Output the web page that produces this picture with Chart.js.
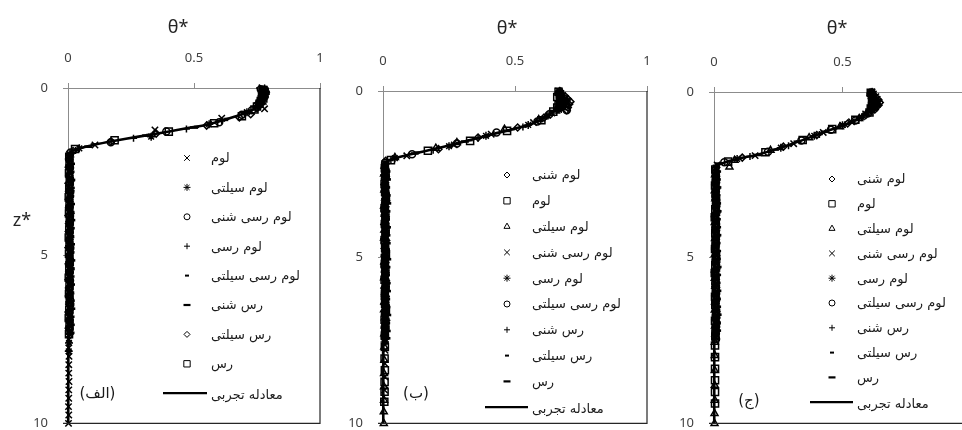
<!DOCTYPE html>
<html><head><meta charset="utf-8">
<script src="https://cdn.jsdelivr.net/npm/chart.js@4.4.1/dist/chart.umd.min.js"></script>
<style>
html,body{margin:0;padding:0;width:962px;height:430px;overflow:hidden;background:#fff;}
.p{position:absolute;top:0;height:430px;width:330px;}
</style></head><body>
<div class="p" style="left:0"><canvas id="c1" width="330" height="430"></canvas></div>
<div class="p" style="left:330px"><canvas id="c2" width="330" height="430"></canvas></div>
<div class="p" style="left:650px"><canvas id="c3" width="330" height="430"></canvas></div>
<script>
// ---------- axis ticks ----------
const thetaTicks = [0, 0.5, 1];
const thetaTickText = ['0', '0.5', '1'];
const depthTicks = [0, 5, 10];
const curveLabel = 'معادله تجربی';

// ---------- panel (الف) ----------
const alefLabels = ['لوم','لوم سیلتی','لوم رسی شنی','لوم رسی','لوم رسی سیلتی','رس شنی','رس سیلتی','رس'];
const alefTheta = [
  [0.77,0.775,0.78,0.77,0.765,0.775,0.76, 0.78,0.61,0.345,0.107, 0.006,0.004,0.008,0.005,0.003,0.007,0.004,0.006,0.003,0.008,0.005,0.004,0.007,0.003,0.006,0.005,0.008,0.004,0.006,0.003,0.007,0.005,0.004, 0.004,0.003,0.004,0.003,0.003,0.004,0.003,0.003,0.002,0.003,0.002],
  [0.78,0.785,0.775,0.78,0.77,0.765,0.76, 0.71,0.56,0.33,0.045, 0.009,0.005,0.007,0.01,0.004,0.008,0.006,0.011,0.005,0.007,0.009,0.004,0.008,0.006,0.01,0.005,0.007,0.009,0.004,0.008,0.006,0.005,0.007, 0.004,0.003],
  [0.765,0.77,0.775,0.77,0.765,0.76,0.75, 0.73,0.69,0.6,0.39,0.17,0.01, 0.006,0.008,0.005,0.007,0.009,0.006,0.004,0.008,0.006,0.007,0.005,0.009,0.006,0.004,0.007,0.008,0.005,0.006,0.009,0.005,0.007,0.006],
  [0.76,0.765,0.77,0.775,0.77,0.765,0.76, 0.745,0.7,0.61,0.47,0.26,0.03, 0.007,0.01,0.006,0.008,0.012,0.007,0.009,0.005,0.01,0.007,0.008,0.011,0.006,0.009,0.007,0.01,0.006,0.008,0.011,0.007,0.009,0.006,0.008],
  [0.775,0.78,0.77,0.775,0.765,0.76,0.755, 0.72,0.63,0.51,0.32,0.1,0.006, 0.01,0.008,0.012,0.009,0.011,0.007,0.01,0.013,0.008,0.011,0.009,0.012,0.008,0.01,0.007,0.011,0.009,0.012,0.008,0.01,0.009,0.008],
  [0.78,0.775,0.785,0.77,0.775,0.765,0.76, 0.755,0.71,0.62,0.5,0.31,0.08,0.008, 0.012,0.01,0.013,0.011,0.009,0.012,0.01,0.013,0.011,0.009,0.012,0.01,0.013,0.011,0.01,0.012,0.009,0.011,0.013,0.01,0.011,0.01],
  [0.78,0.785,0.775,0.78,0.77,0.765,0.755, 0.75,0.725,0.68,0.55,0.35,0.17,0.02, 0.004,0.003,0.005,0.002,0.004,0.003,0.005,0.002,0.004,0.003,0.005,0.002,0.004,0.003,0.005,0.002,0.004,0.003,0.005,0.002,0.004,0.003],
  [0.775,0.78,0.77,0.775,0.765,0.76,0.75, 0.74,0.69,0.58,0.4,0.185,0.028,0.005, 0.006,0.004,0.007,0.005,0.003,0.006,0.004,0.007,0.005,0.003,0.006,0.004,0.007,0.005,0.003,0.006,0.004,0.007,0.005,0.003,0.006,0.004]
];
const alefZ = [
  [0,0.08,0.16,0.24,0.32,0.4,0.48, 0.62,0.9,1.25,1.7, 1.98,2.22,2.46,2.7,2.94,3.18,3.42,3.66,3.9,4.14,4.38,4.62,4.86,5.1,5.34,5.58,5.82,6.06,6.3,6.54,6.78,7.02,7.26, 7.5,7.75,8.0,8.25,8.5,8.75,9.0,9.25,9.5,9.75,10],
  [0.02,0.1,0.18,0.26,0.34,0.42,0.5, 0.72,1.08,1.45,1.8, 2.06,2.3,2.54,2.78,3.02,3.26,3.5,3.74,3.98,4.22,4.46,4.7,4.94,5.18,5.42,5.66,5.9,6.14,6.38,6.62,6.86,7.1,7.34, 7.6,7.85],
  [0.04,0.12,0.2,0.28,0.36,0.44,0.52, 0.66,0.8,1.02,1.3,1.62,1.92, 2.14,2.38,2.62,2.86,3.1,3.34,3.58,3.82,4.06,4.3,4.54,4.78,5.02,5.26,5.5,5.74,5.98,6.22,6.46,6.7,6.94,7.18],
  [0,0.06,0.14,0.22,0.3,0.38,0.46, 0.58,0.76,0.98,1.22,1.5,1.86, 2.1,2.34,2.58,2.82,3.06,3.3,3.54,3.78,4.02,4.26,4.5,4.74,4.98,5.22,5.46,5.7,5.94,6.18,6.42,6.66,6.9,7.14,7.3],
  [0.03,0.11,0.19,0.27,0.35,0.43,0.51, 0.7,0.92,1.16,1.4,1.68,1.95, 2.18,2.42,2.66,2.9,3.14,3.38,3.62,3.86,4.1,4.34,4.58,4.82,5.06,5.3,5.54,5.78,6.02,6.26,6.5,6.74,6.98,7.22],
  [0.01,0.09,0.17,0.25,0.33,0.41,0.49, 0.56,0.74,0.95,1.18,1.42,1.75,2.0, 2.26,2.5,2.74,2.98,3.22,3.46,3.7,3.94,4.18,4.42,4.66,4.9,5.14,5.38,5.62,5.86,6.1,6.34,6.58,6.82,7.06,7.3],
  [0.05,0.13,0.21,0.29,0.37,0.45,0.53, 0.6,0.78,0.88,1.12,1.36,1.6,1.88, 2.12,2.36,2.6,2.84,3.08,3.32,3.56,3.8,4.04,4.28,4.52,4.76,5.0,5.24,5.48,5.72,5.96,6.2,6.44,6.68,6.92,7.16],
  [0.07,0.15,0.23,0.31,0.39,0.47,0.55, 0.64,0.84,1.05,1.3,1.56,1.82,2.05, 2.3,2.54,2.78,3.02,3.26,3.5,3.74,3.98,4.22,4.46,4.7,4.94,5.18,5.42,5.66,5.9,6.14,6.38,6.62,6.86,7.1,7.34]
];
const alefCurveTheta = [0.765,0.77,0.765,0.75,0.72,0.66,0.56,0.47,0.385,0.28,0.18,0.1,0.03,0.008,0.003,0.002,0.001];
const alefCurveZ     = [0,0.15,0.35,0.55,0.7,0.86,1.08,1.2,1.32,1.45,1.58,1.7,1.83,1.93,2.1,4,10];

// ---------- panel (ب) ----------
const beLabels = ['لوم شنی','لوم','لوم سیلتی','لوم رسی شنی','لوم رسی','لوم رسی سیلتی','رس شنی','رس سیلتی','رس'];
const beTheta = [
  [0.67,0.675,0.69,0.7,0.71,0.705,0.7,0.696, 0.61,0.51,0.36,0.21,0.01, 0.008,0.011,0.006,0.009,0.012,0.007,0.01,0.005,0.009,0.012,0.007,0.01,0.006,0.009,0.011,0.007,0.01,0.006,0.009,0.012,0.008,0.007],
  [0.665,0.67,0.66,0.675,0.67,0.665,0.66, 0.645,0.6,0.47,0.33,0.17,0.03, 0.007,0.01,0.006,0.008,0.011,0.006,0.009,0.007,0.01,0.006,0.008,0.011,0.007,0.009,0.006,0.01,0.007,0.008,0.011,0.006,0.009,0.007, 0.007,0.006,0.007,0.006,0.006,0.005],
  [0.67,0.675,0.68,0.685,0.675,0.67,0.665, 0.655,0.59,0.46,0.28,0.2,0.045, 0.006,0.004,0.007,0.005,0.008,0.004,0.006,0.007,0.005,0.004,0.008,0.006,0.005,0.007,0.004,0.006,0.008,0.005,0.004,0.007,0.006,0.005, 0.005,0.005,0.004,0.004,0.004,0.003,0.003],
  [0.665,0.67,0.68,0.69,0.695,0.685,0.68, 0.64,0.57,0.41,0.27,0.09, 0.009,0.012,0.008,0.01,0.013,0.009,0.011,0.008,0.012,0.01,0.009,0.013,0.008,0.011,0.01,0.012,0.009,0.011,0.013,0.008,0.01,0.009, 0.008,0.008,0.007,0.007,0.006],
  [0.67,0.665,0.675,0.68,0.685,0.68,0.675, 0.625,0.55,0.39,0.25,0.045, 0.007,0.005,0.009,0.006,0.008,0.01,0.006,0.007,0.009,0.005,0.008,0.006,0.01,0.007,0.005,0.009,0.006,0.008,0.007,0.01,0.006,0.007, 0.006],
  [0.67,0.675,0.685,0.69,0.695,0.69,0.696, 0.63,0.585,0.43,0.28,0.11, 0.008,0.01,0.007,0.009,0.011,0.008,0.006,0.01,0.008,0.009,0.007,0.011,0.008,0.006,0.009,0.01,0.007,0.008,0.011,0.007,0.009,0.008,0.007],
  [0.665,0.67,0.675,0.68,0.675,0.67,0.665, 0.66,0.62,0.53,0.36,0.19,0.03, 0.01,0.012,0.009,0.011,0.013,0.01,0.008,0.012,0.01,0.011,0.009,0.013,0.01,0.008,0.011,0.012,0.009,0.01,0.013,0.009,0.011,0.01, 0.009],
  [0.67,0.675,0.68,0.685,0.675,0.67,0.655, 0.6,0.49,0.33,0.13,0.012, 0.012,0.014,0.011,0.013,0.015,0.012,0.01,0.014,0.012,0.013,0.011,0.015,0.012,0.01,0.013,0.014,0.011,0.012,0.015,0.011,0.013,0.012],
  [0.665,0.67,0.68,0.675,0.67,0.665,0.645, 0.59,0.47,0.31,0.12,0.01, 0.013,0.015,0.012,0.014,0.016,0.013,0.011,0.015,0.013,0.014,0.012,0.016,0.013,0.011,0.014,0.015,0.012,0.013,0.016,0.012,0.014,0.013]
];
const beZ = [
  [0,0.08,0.16,0.24,0.32,0.4,0.5,0.58, 0.8,1.1,1.4,1.75,2.1, 2.34,2.58,2.82,3.06,3.3,3.54,3.78,4.02,4.26,4.5,4.74,4.98,5.22,5.46,5.7,5.94,6.18,6.42,6.66,6.9,7.14,7.38],
  [0.02,0.1,0.18,0.26,0.34,0.42,0.5, 0.62,0.88,1.2,1.5,1.8,2.08, 2.32,2.56,2.8,3.04,3.28,3.52,3.76,4.0,4.24,4.48,4.72,4.96,5.2,5.44,5.68,5.92,6.16,6.4,6.64,6.88,7.12,7.36, 7.7,8.05,8.4,8.75,9.05,9.35],
  [0.04,0.12,0.2,0.28,0.36,0.44,0.52, 0.6,0.86,1.15,1.55,1.72,2.0, 2.26,2.5,2.74,2.98,3.22,3.46,3.7,3.94,4.18,4.42,4.66,4.9,5.14,5.38,5.62,5.86,6.1,6.34,6.58,6.82,7.06,7.3, 7.7,8.1,8.5,8.9,9.3,9.65,10],
  [0,0.06,0.14,0.22,0.3,0.38,0.46, 0.66,0.95,1.3,1.62,1.95, 2.2,2.44,2.68,2.92,3.16,3.4,3.64,3.88,4.12,4.36,4.6,4.84,5.08,5.32,5.56,5.8,6.04,6.28,6.52,6.76,7.0,7.24, 7.5,7.8,8.2,8.6,9.0],
  [0.03,0.11,0.19,0.27,0.35,0.43,0.54, 0.74,1.02,1.35,1.66,2.02, 2.28,2.52,2.76,3.0,3.24,3.48,3.72,3.96,4.2,4.44,4.68,4.92,5.16,5.4,5.64,5.88,6.12,6.36,6.6,6.84,7.08,7.32, 7.55],
  [0.06,0.14,0.22,0.3,0.38,0.46,0.58, 0.7,0.92,1.25,1.58,1.9, 2.16,2.4,2.64,2.88,3.12,3.36,3.6,3.84,4.08,4.32,4.56,4.8,5.04,5.28,5.52,5.76,6.0,6.24,6.48,6.72,6.96,7.2,7.42],
  [0.01,0.09,0.17,0.25,0.33,0.41,0.49, 0.56,0.76,1.08,1.42,1.78,2.06, 2.3,2.54,2.78,3.02,3.26,3.5,3.74,3.98,4.22,4.46,4.7,4.94,5.18,5.42,5.66,5.9,6.14,6.38,6.62,6.86,7.1,7.34, 7.55],
  [0.05,0.13,0.21,0.29,0.37,0.45,0.58, 0.82,1.15,1.48,1.85,2.12, 2.36,2.6,2.84,3.08,3.32,3.56,3.8,4.04,4.28,4.52,4.76,5.0,5.24,5.48,5.72,5.96,6.2,6.44,6.68,6.92,7.16,7.4],
  [0.07,0.15,0.23,0.31,0.39,0.47,0.6, 0.9,1.2,1.52,1.88,2.18, 2.42,2.66,2.9,3.14,3.38,3.62,3.86,4.1,4.34,4.58,4.82,5.06,5.3,5.54,5.78,6.02,6.26,6.5,6.74,6.98,7.22,7.44]
];
const beCurveTheta = [0.665,0.67,0.67,0.655,0.635,0.585,0.53,0.42,0.29,0.215,0.1,0.04,0.01,0.004,0.002,0.001];
const beCurveZ     = [0,0.2,0.4,0.55,0.68,0.92,1.07,1.29,1.56,1.71,1.91,2.04,2.15,2.4,5,10];

// ---------- panel (ج) ----------
const jimLabels = ['لوم شنی','لوم','لوم سیلتی','لوم رسی شنی','لوم رسی','لوم رسی سیلتی','رس شنی','رس سیلتی','رس'];
const jimTheta = [
  [0.615,0.62,0.63,0.64,0.645,0.64,0.626, 0.59,0.52,0.4,0.27,0.11, 0.006,0.008,0.005,0.007,0.009,0.006,0.004,0.008,0.006,0.007,0.005,0.009,0.006,0.004,0.007,0.008,0.005,0.006,0.009,0.005,0.007,0.006],
  [0.61,0.615,0.62,0.615,0.62,0.615,0.61, 0.605,0.55,0.46,0.345,0.2,0.055, 0.005,0.007,0.004,0.006,0.008,0.005,0.003,0.007,0.005,0.006,0.004,0.008,0.005,0.003,0.006,0.007,0.004,0.005,0.008,0.004,0.006,0.005, 0.004,0.004,0.004,0.004,0.004,0.004],
  [0.61,0.615,0.62,0.625,0.62,0.615,0.61, 0.6,0.565,0.49,0.37,0.22,0.08,0.06, 0.004,0.006,0.003,0.005,0.007,0.004,0.003,0.006,0.004,0.005,0.003,0.007,0.004,0.003,0.005,0.006,0.004,0.003,0.006,0.004,0.005, 0.003,0.003,0.003,0.003,0.003,0.002,0.002],
  [0.615,0.62,0.63,0.635,0.64,0.635,0.625, 0.59,0.535,0.425,0.31,0.16,0.012, 0.008,0.01,0.007,0.009,0.011,0.008,0.006,0.01,0.008,0.009,0.007,0.011,0.008,0.006,0.009,0.01,0.007,0.008,0.011,0.007,0.009,0.008],
  [0.61,0.615,0.62,0.625,0.63,0.625,0.615, 0.575,0.5,0.39,0.26,0.09,0.006, 0.006,0.004,0.008,0.005,0.007,0.009,0.005,0.006,0.008,0.004,0.007,0.005,0.009,0.006,0.004,0.008,0.005,0.007,0.006,0.009,0.005],
  [0.61,0.615,0.62,0.625,0.63,0.625,0.6, 0.55,0.455,0.34,0.21,0.04,0.007, 0.007,0.009,0.006,0.008,0.01,0.007,0.005,0.009,0.007,0.008,0.006,0.01,0.007,0.005,0.008,0.009,0.006,0.007,0.01,0.006,0.008],
  [0.615,0.62,0.625,0.63,0.625,0.62,0.61, 0.58,0.51,0.41,0.29,0.14,0.01, 0.009,0.011,0.008,0.01,0.012,0.009,0.007,0.011,0.009,0.01,0.008,0.012,0.009,0.007,0.01,0.011,0.008,0.009,0.012,0.008,0.01],
  [0.615,0.62,0.625,0.63,0.625,0.62,0.6, 0.56,0.47,0.36,0.24,0.06,0.01, 0.01,0.012,0.009,0.011,0.013,0.01,0.008,0.012,0.01,0.011,0.009,0.013,0.01,0.008,0.011,0.012,0.009,0.01,0.013,0.009,0.011],
  [0.61,0.615,0.62,0.625,0.62,0.615,0.59, 0.535,0.43,0.325,0.17,0.02, 0.012,0.011,0.013,0.01,0.012,0.014,0.011,0.012,0.013,0.01,0.012,0.011,0.014,0.012,0.01,0.013,0.011,0.012,0.014,0.011,0.012]
];
const jimZ = [
  [0,0.08,0.16,0.24,0.32,0.4,0.53, 0.7,0.95,1.3,1.65,1.98, 2.3,2.54,2.78,3.02,3.26,3.5,3.74,3.98,4.22,4.46,4.7,4.94,5.18,5.42,5.66,5.9,6.14,6.38,6.62,6.86,7.1,7.3],
  [0.02,0.1,0.18,0.26,0.34,0.42,0.5, 0.62,0.84,1.12,1.45,1.82,2.1, 2.34,2.58,2.82,3.06,3.3,3.54,3.78,4.02,4.26,4.5,4.74,4.98,5.22,5.46,5.7,5.94,6.18,6.42,6.66,6.9,7.14,7.38, 7.65,8.0,8.35,8.7,9.05,9.4],
  [0.04,0.12,0.2,0.28,0.36,0.44,0.52, 0.6,0.8,1.05,1.38,1.76,2.06,2.26, 2.5,2.74,2.98,3.22,3.46,3.7,3.94,4.18,4.42,4.66,4.9,5.14,5.38,5.62,5.86,6.1,6.34,6.58,6.82,7.06,7.3, 7.55,7.95,8.4,8.85,9.3,9.7,10],
  [0,0.06,0.14,0.22,0.3,0.38,0.48, 0.66,0.9,1.22,1.56,1.92,2.2, 2.44,2.68,2.92,3.16,3.4,3.64,3.88,4.12,4.36,4.6,4.84,5.08,5.32,5.56,5.8,6.04,6.28,6.52,6.76,7.0,7.24,7.42],
  [0.03,0.11,0.19,0.27,0.35,0.43,0.55, 0.76,1.0,1.32,1.68,2.02,2.28, 2.52,2.76,3.0,3.24,3.48,3.72,3.96,4.2,4.44,4.68,4.92,5.16,5.4,5.64,5.88,6.12,6.36,6.6,6.84,7.08,7.32],
  [0.06,0.14,0.22,0.3,0.38,0.46,0.64, 0.86,1.14,1.46,1.8,2.12,2.42, 2.66,2.9,3.14,3.38,3.62,3.86,4.1,4.34,4.58,4.82,5.06,5.3,5.54,5.78,6.02,6.26,6.5,6.74,6.98,7.22,7.45],
  [0.01,0.09,0.17,0.25,0.33,0.41,0.57, 0.72,0.98,1.28,1.62,1.95,2.25, 2.49,2.73,2.97,3.21,3.45,3.69,3.93,4.17,4.41,4.65,4.89,5.13,5.37,5.61,5.85,6.09,6.33,6.57,6.81,7.05,7.29],
  [0.05,0.13,0.21,0.29,0.37,0.45,0.6, 0.82,1.1,1.4,1.74,2.08,2.4, 2.64,2.88,3.12,3.36,3.6,3.84,4.08,4.32,4.56,4.8,5.04,5.28,5.52,5.76,6.0,6.24,6.48,6.72,6.96,7.2,7.44],
  [0.07,0.15,0.23,0.31,0.39,0.47,0.68, 0.92,1.2,1.5,1.9,2.16, 2.4,2.64,2.88,3.12,3.36,3.6,3.84,4.08,4.32,4.56,4.8,5.04,5.28,5.52,5.76,6.0,6.24,6.48,6.72,6.96,7.2]
];
const jimCurveTheta = [0.615,0.62,0.62,0.61,0.58,0.53,0.425,0.32,0.18,0.09,0.025,0.006,0.002,0.001];
const jimCurveZ     = [0,0.2,0.4,0.55,0.73,0.93,1.22,1.52,1.87,2.02,2.17,2.33,2.6,10];

// ---------- styles (not data) ----------
const markerDefs = {
  crossRot:{pointStyle:'crossRot', radius:4.5, borderWidth:1.5},
  star:{pointStyle:'star', radius:4, borderWidth:1.5},
  circle:{pointStyle:'circle', radius:3.5, borderWidth:1.5},
  cross:{pointStyle:'cross', radius:3.5, borderWidth:1.5},
  dashS:{pointStyle:'line', radius:2.5, borderWidth:2.4},
  dashL:{pointStyle:'line', radius:4, borderWidth:2.6},
  rectRot:{pointStyle:'rectRot', radius:3.5, borderWidth:1.5},
  rect:{pointStyle:'rect', radius:5, borderWidth:1.5},
  triangle:{pointStyle:'triangle', radius:4, borderWidth:1.5}
};
const legendMarkerDefs = {
  crossRot:{pointStyle:'crossRot', radius:4, borderWidth:1},
  star:{pointStyle:'star', radius:3.5, borderWidth:1},
  circle:{pointStyle:'circle', radius:3, borderWidth:1},
  cross:{pointStyle:'cross', radius:3, borderWidth:1},
  dashS:{pointStyle:'line', radius:2, borderWidth:2},
  dashL:{pointStyle:'line', radius:3.5, borderWidth:2.2},
  rectRot:{pointStyle:'rectRot', radius:3, borderWidth:1},
  rect:{pointStyle:'rect', radius:4.5, borderWidth:1},
  triangle:{pointStyle:'triangle', radius:3.5, borderWidth:1}
};
const alefMarkers = ['crossRot','star','circle','cross','dashS','dashL','rectRot','rect'];
const beMarkers = ['rectRot','rect','triangle','crossRot','star','circle','cross','dashS','dashL'];
const jimMarkers = ['rectRot','rect','triangle','crossRot','star','circle','cross','dashS','dashL'];

const AXIS_GRAY = '#8c8c8c';
const TXT = '#404040';

function drawMarker(ctx, m, x, y){
  ctx.save();
  ctx.strokeStyle = '#000'; ctx.fillStyle = 'rgba(0,0,0,0)'; ctx.lineWidth = m.borderWidth;
  if (Chart.helpers && Chart.helpers.drawPoint) {
    Chart.helpers.drawPoint(ctx, {pointStyle:m.pointStyle, radius:m.radius, borderWidth:m.borderWidth, rotation:0}, x, y);
  }
  ctx.restore();
}

const decor = {
  id:'decor',
  afterDraw(chart, args, o){
    const {ctx, chartArea:a, scales} = chart;
    ctx.save();
    ctx.strokeStyle = '#262626'; ctx.lineWidth = 1.2;
    ctx.beginPath(); ctx.moveTo(a.right, a.top); ctx.lineTo(a.right, a.bottom); ctx.lineTo(a.left - 5, a.bottom); ctx.stroke();
    ctx.fillStyle = '#262626'; ctx.font = '18px "Noto Sans"'; ctx.textAlign = 'center'; ctx.textBaseline = 'middle';
    ctx.fillText('θ*', a.left + o.titleDx, o.titleY);
    if (o.yTitle) ctx.fillText('z*', o.yTitle[0], o.yTitle[1]);
    ctx.font = '15px "DejaVu Sans"'; ctx.fillStyle = '#1a1a1a';
    ctx.fillText(o.tag, scales.x.getPixelForValue(o.tagAt[0]), scales.y.getPixelForValue(o.tagAt[1]));
    ctx.font = '13px "DejaVu Sans"'; ctx.textAlign = 'left';
    const n = o.labels.length;
    for (let i = 0; i < n; i++){
      const y = a.top + o.legTop + i*o.legDy;
      drawMarker(ctx, legendMarkerDefs[o.markers[i]], a.left + o.markDx, y);
      ctx.fillStyle = '#1a1a1a';
      ctx.fillText(o.labels[i], a.left + o.textDx, y + 1);
    }
    const yl = a.top + o.legTop + n*o.legDy;
    ctx.strokeStyle = '#000'; ctx.lineWidth = 2.2;
    ctx.beginPath(); ctx.moveTo(a.left + o.lineDx[0], yl); ctx.lineTo(a.left + o.lineDx[1], yl); ctx.stroke();
    ctx.fillStyle = '#1a1a1a';
    ctx.fillText(curveLabel, a.left + o.textDx, yl + 2);
    ctx.restore();
  }
};

function makeChart(id, labels, thetas, zs, markers, cT, cZ, g){
  const datasets = labels.map((lab, i) => {
    const m = markerDefs[markers[i]];
    const n = Math.min(thetas[i].length, zs[i].length);
    return {
      label: lab,
      data: thetas[i].slice(0, n).map((t, j) => ({x:t, y:zs[i][j]})),
      showLine:false, pointStyle:m.pointStyle, pointRadius:m.radius, pointBorderWidth:m.borderWidth,
      pointBorderColor:'#000', pointBackgroundColor:'rgba(0,0,0,0)', borderColor:'#000', backgroundColor:'rgba(0,0,0,0)', clip:false
    };
  });
  datasets.push({label:curveLabel, data:cT.map((t,j)=>({x:t, y:cZ[j]})), showLine:true, pointRadius:0,
    borderColor:'#000', borderWidth:2.6, tension:0.25, clip:false, fill:false});
  const fix = (w, h) => (s) => {
    if (w !== null) s.width = w;
    if (h !== null) s.height = h;
    s.paddingLeft = 0; s.paddingRight = 0; s.paddingTop = 0; s.paddingBottom = 0;
  };
  return new Chart(document.getElementById(id), {
    type:'scatter',
    data:{datasets},
    options:{
      responsive:false, animation:false, events:[],
      layout:{padding:{left:0, top:0, right:g.padR, bottom:g.padB}},
      plugins:{legend:{display:false}, tooltip:{enabled:false}, decor:g.decor},
      scales:{
        x:{type:'linear', position:'top', min:thetaTicks[0], max:thetaTicks[thetaTicks.length-1],
          afterBuildTicks:(s)=>{ s.ticks = thetaTicks.map(v=>({value:v})); },
          ticks:{padding:17, color:TXT, font:{family:'Noto Sans', size:13}, maxRotation:0, autoSkip:false,
            callback:(v)=>{ const k = thetaTicks.indexOf(v); return k >= 0 ? thetaTickText[k] : String(v); }},
          grid:{drawOnChartArea:false, drawTicks:true, tickLength:5, color:AXIS_GRAY},
          border:{display:true, color:AXIS_GRAY, width:1},
          afterFit: fix(null, g.top)},
        y:{type:'linear', reverse:true, min:depthTicks[0], max:depthTicks[depthTicks.length-1],
          afterBuildTicks:(s)=>{ s.ticks = depthTicks.map(v=>({value:v})); },
          ticks:{padding:15, color:TXT, font:{family:'Noto Sans', size:13}, autoSkip:false, callback:(v)=>String(v)},
          grid:{drawOnChartArea:false, drawTicks:true, tickLength:5, color:AXIS_GRAY},
          border:{display:true, color:AXIS_GRAY, width:1},
          afterFit: fix(g.left, null)}
      }
    },
    plugins:[decor]
  });
}

makeChart('c1', alefLabels, alefTheta, alefZ, alefMarkers, alefCurveTheta, alefCurveZ, {
  left:68, top:88, padR:10, padB:4,
  decor:{titleDx:110, titleY:28, yTitle:[22,221], tag:'(الف)', tagAt:[0.117,9.14],
    labels:alefLabels, markers:alefMarkers, legTop:70, legDy:29.4, markDx:119, textDx:143, lineDx:[95,139]}
});
makeChart('c2', beLabels, beTheta, beZ, beMarkers, beCurveTheta, beCurveZ, {
  left:53, top:91, padR:13, padB:4,
  decor:{titleDx:124, titleY:29, yTitle:null, tag:'(ب)', tagAt:[0.125,9.13],
    labels:beLabels, markers:beMarkers, legTop:84, legDy:25.8, markDx:124, textDx:149, lineDx:[102,145]}
});
makeChart('c3', jimLabels, jimTheta, jimZ, jimMarkers, jimCurveTheta, jimCurveZ, {
  left:64, top:92, padR:9, padB:3,
  decor:{titleDx:123, titleY:29, yTitle:null, tag:'(ج)', tagAt:[0.136,9.34],
    labels:jimLabels, markers:jimMarkers, legTop:87, legDy:24.8, markDx:118, textDx:143, lineDx:[96,139]}
});
</script>
</body></html>
